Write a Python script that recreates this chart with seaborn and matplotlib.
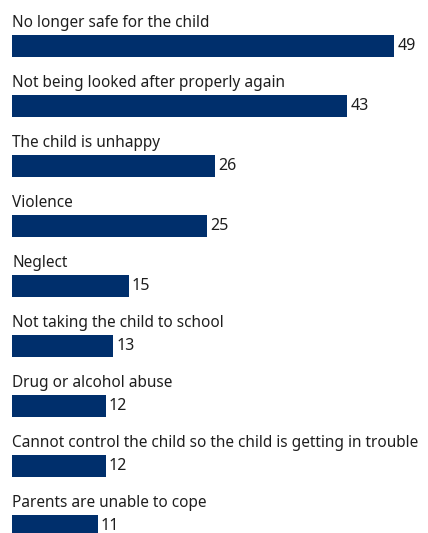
import matplotlib
matplotlib.use("Agg")
import matplotlib.pyplot as plt
import seaborn as sns
import pandas as pd

reasons = [
    "No longer safe for the child",
    "Not being looked after properly again",
    "The child is unhappy",
    "Violence",
    "Neglect",
    "Not taking the child to school",
    "Drug or alcohol abuse",
    "Cannot control the child so the child is getting in trouble",
    "Parents are unable to cope",
]
percentages = [49, 43, 26, 25, 15, 13, 12, 12, 11]

df = pd.DataFrame({"reason": reasons, "pct": percentages})

sns.set_theme(style="white")
plt.rcParams["font.family"] = ["Noto Sans", "DejaVu Sans"]

W, H = 428, 533
fig = plt.figure(figsize=(W / 100, H / 100), dpi=100)
ax = fig.add_axes([12 / W, 0, 1 - 12 / W, 1])

navy = "#002f6c"
sns.barplot(data=df, y="reason", x="pct", orient="h", color=navy,
            width=22 / 60, saturation=1, linewidth=0, ax=ax)

px_per_unit = 7.8
ax.set_xlim(0, (W - 12) / px_per_unit)
ax.set_ylim((H - 46) / 60, -46 / 60)
ax.axis("off")

text_color = "#1e1e1e"
for i, (r, v) in enumerate(zip(reasons, percentages)):
    ax.text(0, i - 19 / 60, r, fontsize=11.05, color=text_color,
            ha="left", va="baseline")
    ax.text(v + 3 / px_per_unit, i + 4 / 60, str(v), fontsize=11.5,
            color=text_color, ha="left", va="baseline")

fig.savefig("out.png", dpi=100, facecolor="white")
